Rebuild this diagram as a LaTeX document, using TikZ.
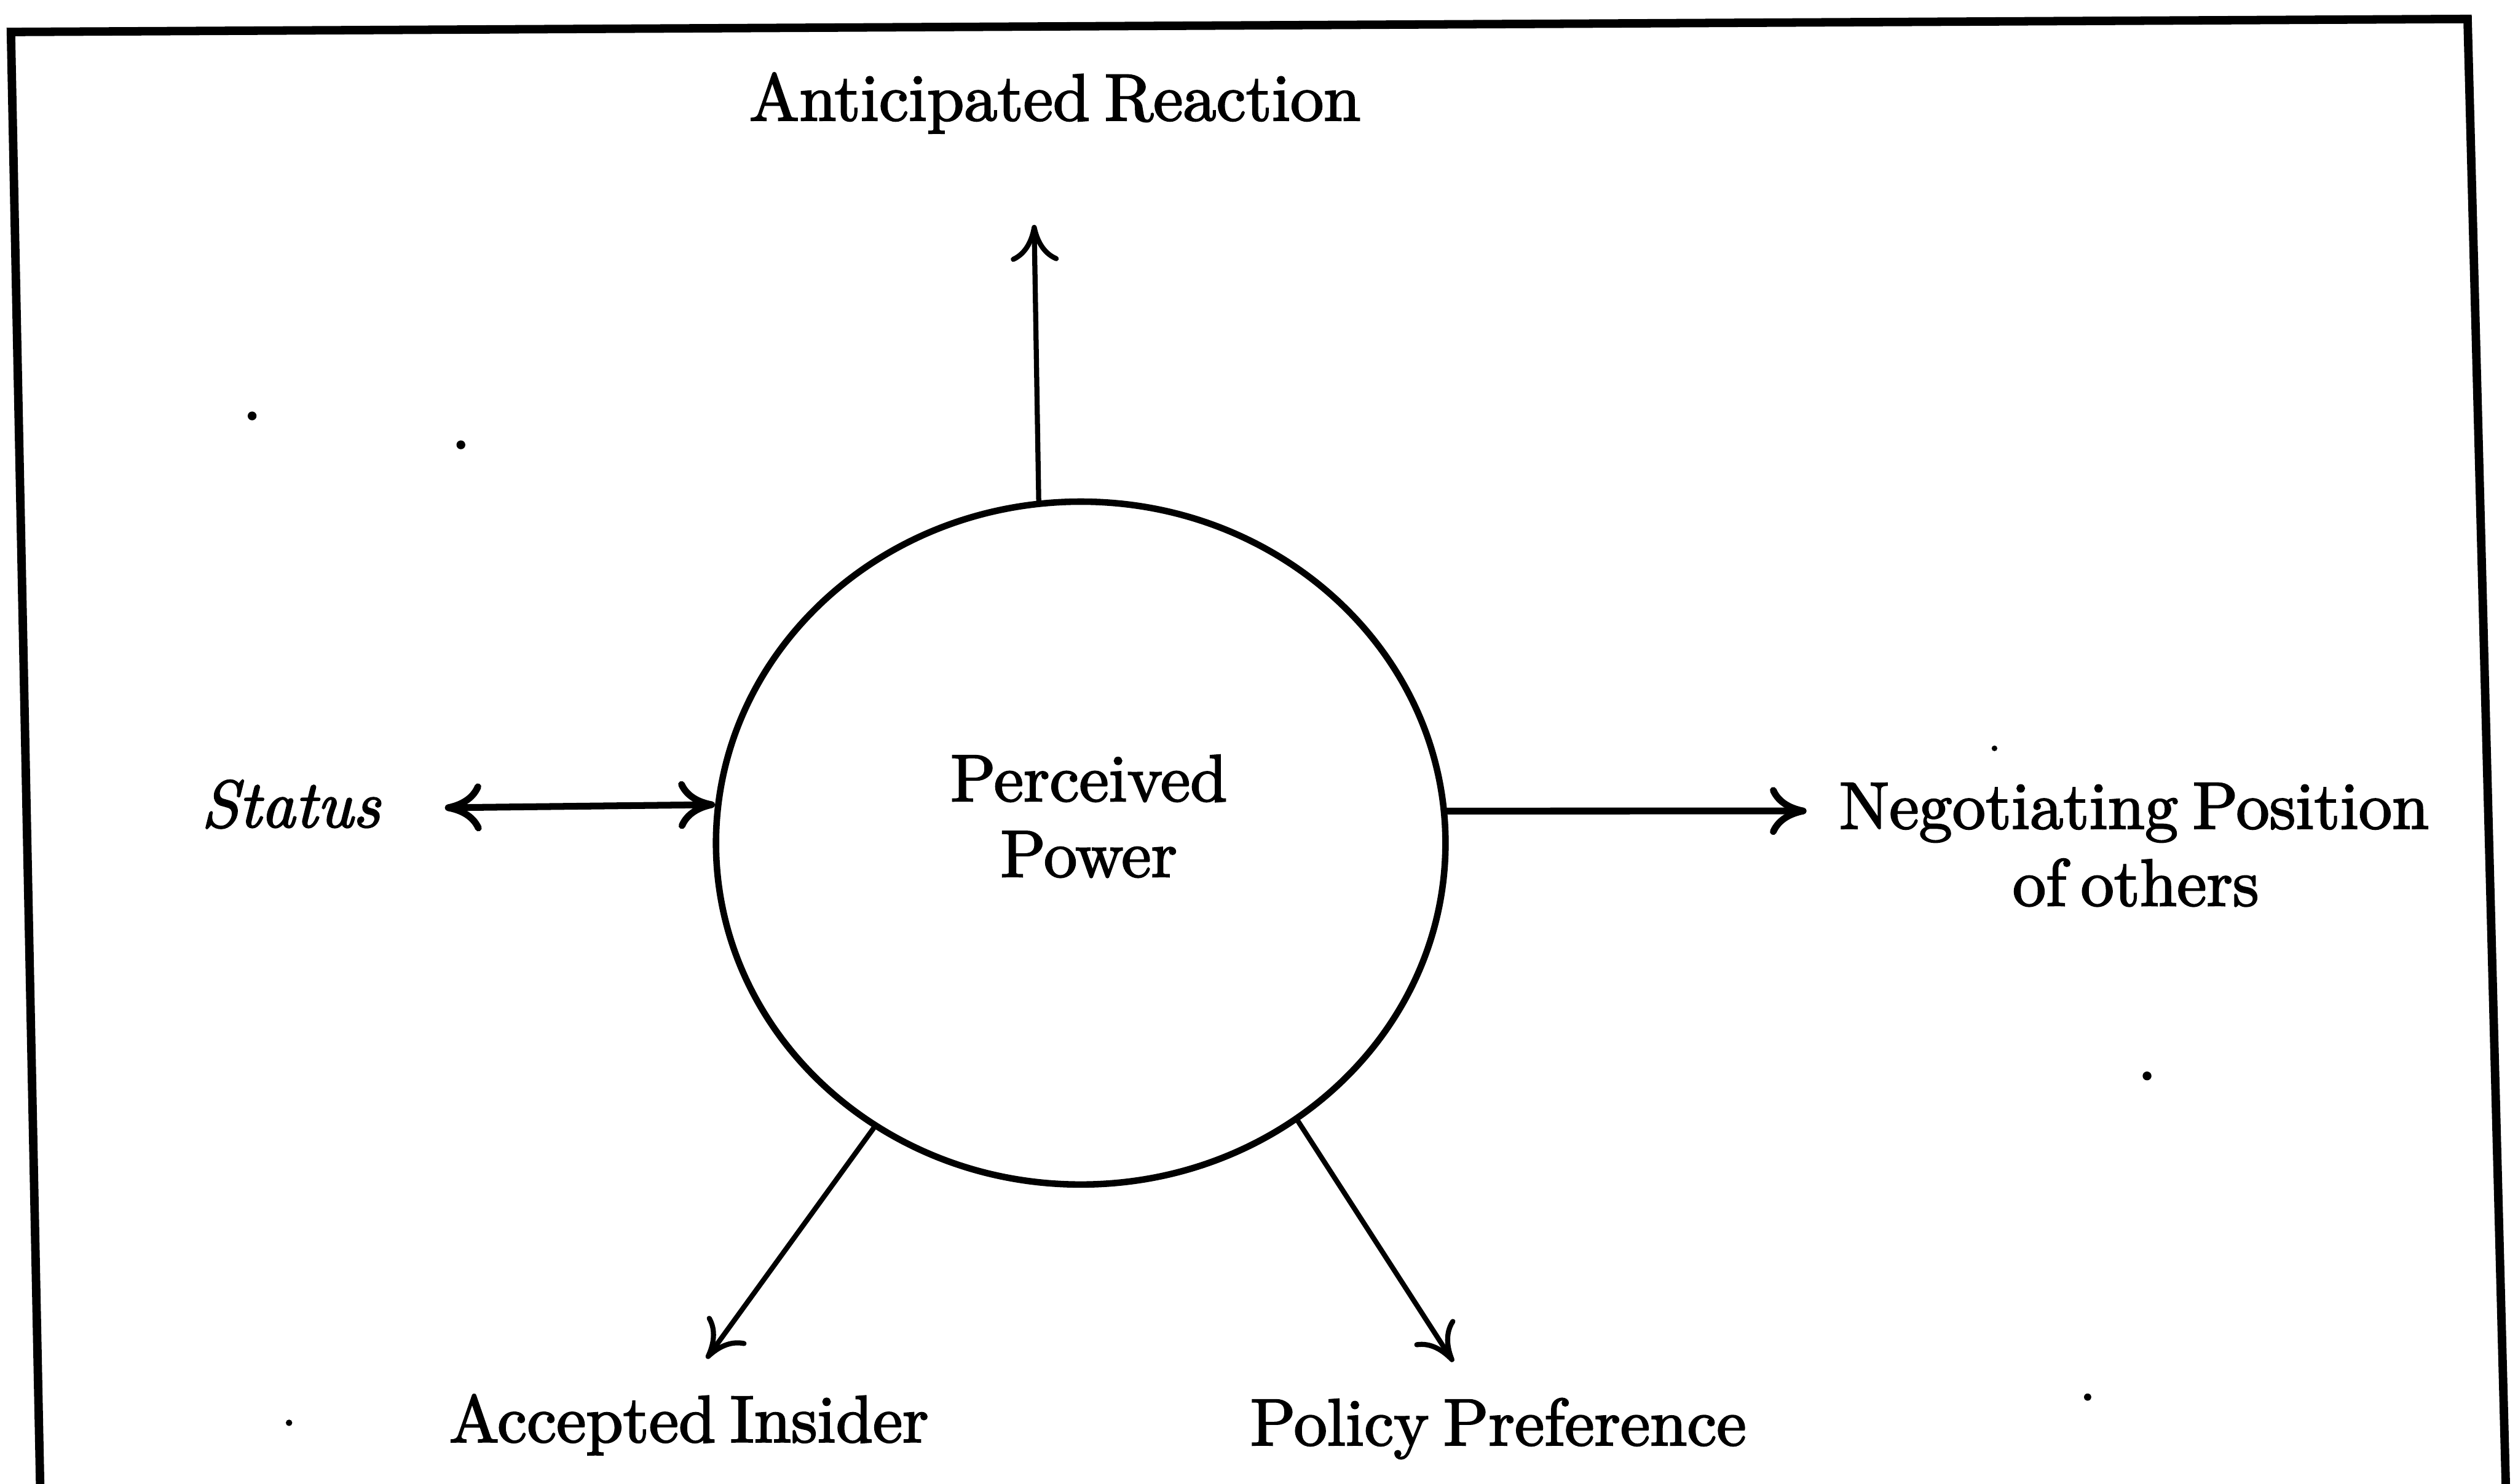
\documentclass[tikz,border=0pt]{standalone}
\usepackage{fontspec}
\newfontfamily\lblfont{lmroman10-regular.otf}[FakeBold=2.2,WordSpace=0.65,ItalicFont=lmroman10-italic.otf,ItalicFeatures={FakeBold=2.2}]
\usetikzlibrary{arrows.meta,shapes.geometric}
\begin{document}
\begin{tikzpicture}[x=0.01cm,y=-0.01cm,
  lbl/.style={anchor=base,inner sep=0pt,font=\lblfont\fontsize{11.8}{14}\selectfont},
  conn/.style={line width=0.9pt,line cap=round,-{Computer Modern Rightarrow[length=6.5pt,width=8.5pt,line width=0.9pt]}},
  thickconn/.style={line width=1.2pt,line cap=round,-{Computer Modern Rightarrow[length=6.5pt,width=8.5pt,line width=1.2pt]}},
  bothconn/.style={line width=1.2pt,line cap=round,
    {Computer Modern Rightarrow[length=6.5pt,width=8.5pt,line width=1.2pt]}-{Computer Modern Rightarrow[length=6.5pt,width=8.5pt,line width=1.2pt]}},
  speck/.style={fill=black,draw=none,circle,inner sep=0pt,minimum size=0.055cm}]
\useasboundingbox (0,0) rectangle (1568,924);
\clip (0,0) rectangle (1568,924);

% outer frame (open at the bottom edge of the page)
\draw[line width=1.5pt,line join=miter] (25.3,940) -- (6.8,19.9) -- (1536.6,11.8) -- (1560.8,940);

% central concept
\node[draw,ellipse,line width=1.15pt,minimum width=4.54cm,minimum height=4.25cm,inner sep=0pt] (pp) at (673,525) {};
\node[lbl,align=center] (pptext) at (678,546) {Perceived\\[-0.6pt]Power};

% surrounding labels
\node[lbl] (ar) at (657,75) {Anticipated Reaction};
\node[lbl] (st) at (181,515) {\itshape Status};
\node[lbl] (np1) at (1329,516) {Negotiating Position};
\node[lbl] (np2) at (1330,564) {of others};
\node[lbl] (ai) at (429,898) {Accepted Insider};
\node[lbl] (pf) at (933,900) {Policy Preference};

% arrow end points
\coordinate (arTip) at (644,140);
\coordinate (stTip) at (277,503);
\coordinate (npTip) at (1125,505);
\coordinate (aiTip) at (440,846);
\coordinate (pfTip) at (905,848);

% connectors
\draw[conn] (pp.97) -- (arTip);
\draw[bothconn] (stTip) -- (pp.174);
\draw[thickconn] (pp.5) -- (npTip);
\draw[conn] (pp.234) -- (aiTip);
\draw[conn] (pp.308) -- (pfTip);

% small specks on the page
\node[speck] (d1) at (157,259) {};
\node[speck] (d2) at (287,277) {};
\node[speck,minimum size=0.035cm] (d3) at (1242,466) {};
\node[speck] (d4) at (1337,670) {};
\node[speck,minimum size=0.04cm] (d5) at (180,886) {};
\node[speck,minimum size=0.045cm] (d6) at (1300,870) {};
\end{tikzpicture}
\end{document}
